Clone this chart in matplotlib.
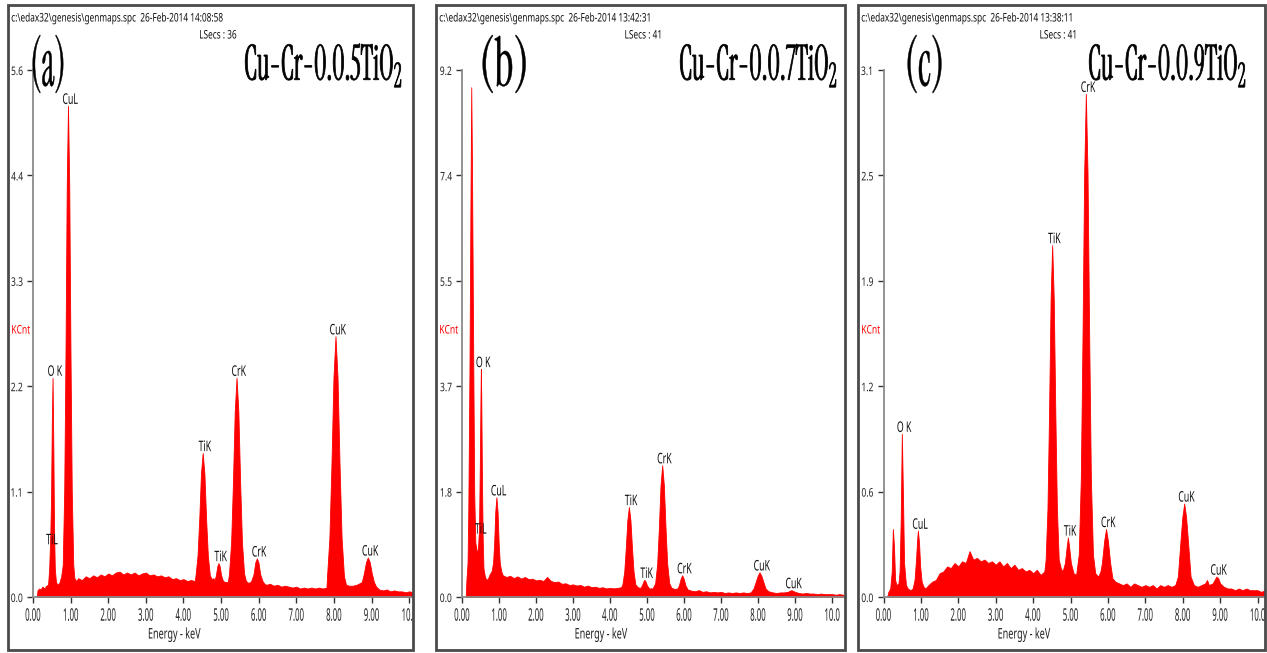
import numpy as np
import matplotlib
matplotlib.use('Agg')
from matplotlib import pyplot as plt
from matplotlib.patches import Rectangle
from matplotlib.patheffects import AbstractPathEffect
from matplotlib.transforms import Affine2D, Bbox, blended_transform_factory
from matplotlib.textpath import TextPath
from matplotlib.font_manager import FontProperties

plt.rcParams['font.family'] = ['Noto Sans', 'DejaVu Sans']
plt.rcParams['mathtext.fontset'] = 'custom'
plt.rcParams['mathtext.default'] = 'regular'

# EDS spectra, (energy keV, KCnt)
spec_a = [
    (0.10, 0.00), (0.12, 0.07), (0.16, 0.09), (0.20, 0.08), (0.25, 0.11), (0.30, 0.09), (0.35, 0.12), (0.40, 0.13),
    (0.43, 0.30), (0.46, 0.66), (0.48, 1.05), (0.50, 1.85), (0.52, 2.33), (0.54, 1.60), (0.56, 0.70), (0.58, 0.30),
    (0.61, 0.16), (0.65, 0.13), (0.70, 0.15), (0.75, 0.22),
    (0.79, 0.34), (0.83, 1.13), (0.864, 2.60), (0.897, 4.38), (0.93, 5.22), (0.963, 4.38), (0.996, 2.60), (1.03, 1.13),
    (1.07, 0.34), (1.10, 0.20),
    (1.15, 0.17), (1.20, 0.20), (1.30, 0.18), (1.40, 0.22), (1.50, 0.20), (1.60, 0.23), (1.70, 0.21), (1.80, 0.24),
    (1.90, 0.22), (2.00, 0.25), (2.10, 0.23), (2.20, 0.26), (2.30, 0.27), (2.40, 0.24), (2.50, 0.26), (2.60, 0.24),
    (2.70, 0.26), (2.80, 0.23), (2.90, 0.25), (3.00, 0.26), (3.10, 0.23), (3.20, 0.24), (3.30, 0.22), (3.40, 0.23),
    (3.50, 0.21), (3.60, 0.22), (3.70, 0.19), (3.80, 0.20), (3.90, 0.18), (4.00, 0.19), (4.10, 0.17), (4.20, 0.18),
    (4.30, 0.17),
    (4.32, 0.23), (4.373, 0.44), (4.419, 0.83), (4.464, 1.31), (4.51, 1.53), (4.556, 1.31), (4.601, 0.83), (4.647, 0.44),
    (4.70, 0.23), (4.75, 0.19), (4.80, 0.20),
    (4.82, 0.17), (4.86, 0.23), (4.90, 0.33), (4.93, 0.36), (4.96, 0.33), (5.00, 0.23), (5.05, 0.17), (5.10, 0.16),
    (5.18, 0.16),
    (5.21, 0.25), (5.266, 0.58), (5.314, 1.21), (5.362, 1.97), (5.41, 2.33), (5.458, 1.97), (5.506, 1.21), (5.554, 0.58),
    (5.61, 0.25), (5.66, 0.17), (5.72, 0.15), (5.78, 0.16),
    (5.80, 0.17), (5.86, 0.24), (5.91, 0.37), (5.95, 0.41), (5.99, 0.37), (6.04, 0.24), (6.10, 0.17), (6.15, 0.14),
    (6.20, 0.13), (6.30, 0.14), (6.40, 0.12), (6.50, 0.13), (6.60, 0.11), (6.70, 0.12), (6.80, 0.11), (6.90, 0.10),
    (7.00, 0.11), (7.10, 0.09), (7.20, 0.10), (7.30, 0.09), (7.40, 0.10), (7.50, 0.09), (7.60, 0.10), (7.70, 0.09),
    (7.80, 0.10),
    (7.815, 0.22), (7.878, 0.63), (7.932, 1.40), (7.986, 2.33), (8.04, 2.77), (8.094, 2.33), (8.148, 1.40), (8.202, 0.63),
    (8.265, 0.22), (8.32, 0.13), (8.40, 0.12), (8.50, 0.12), (8.60, 0.13), (8.70, 0.15),
    (8.74, 0.16), (8.80, 0.26), (8.85, 0.37), (8.90, 0.42), (8.95, 0.37), (9.00, 0.26), (9.06, 0.16), (9.12, 0.11),
    (9.20, 0.08), (9.30, 0.07), (9.40, 0.08), (9.50, 0.06), (9.60, 0.07), (9.70, 0.06), (9.80, 0.06), (9.90, 0.05),
    (10.00, 0.06), (10.10, 0.05), (10.20, 0.05),
]

spec_b = [
    (0.10, 0.00), (0.12, 0.30), (0.15, 0.60), (0.17, 1.50), (0.20, 3.80), (0.23, 7.00), (0.25, 8.90), (0.27, 7.50),
    (0.30, 4.50), (0.33, 1.80), (0.36, 0.95),
    (0.40, 0.80), (0.43, 0.82), (0.46, 1.20), (0.48, 2.20), (0.50, 3.50), (0.51, 3.98), (0.52, 3.50), (0.54, 2.00),
    (0.56, 1.00), (0.58, 0.50), (0.62, 0.35), (0.66, 0.30), (0.70, 0.32), (0.75, 0.40),
    (0.80, 0.45), (0.84, 0.60), (0.87, 0.95), (0.90, 1.50), (0.93, 1.74), (0.96, 1.50), (0.99, 0.95), (1.02, 0.60),
    (1.06, 0.45), (1.10, 0.38),
    (1.20, 0.35), (1.30, 0.37), (1.40, 0.33), (1.50, 0.36), (1.60, 0.32), (1.70, 0.35), (1.80, 0.31), (1.90, 0.32),
    (2.00, 0.29), (2.10, 0.30), (2.20, 0.28), (2.30, 0.35), (2.40, 0.28), (2.50, 0.26), (2.60, 0.27), (2.70, 0.23),
    (2.80, 0.24), (2.90, 0.21), (3.00, 0.22), (3.10, 0.20), (3.20, 0.21), (3.30, 0.18), (3.40, 0.20), (3.50, 0.17),
    (3.60, 0.18), (3.70, 0.16), (3.80, 0.17), (3.90, 0.15), (4.00, 0.16), (4.10, 0.15), (4.20, 0.16), (4.30, 0.17),
    (4.335, 0.22), (4.384, 0.44), (4.426, 0.85), (4.468, 1.34), (4.51, 1.57), (4.552, 1.34), (4.594, 0.85),
    (4.636, 0.44), (4.685, 0.22),
    (4.75, 0.17), (4.82, 0.16), (4.86, 0.20), (4.90, 0.27), (4.93, 0.30), (4.96, 0.27), (5.00, 0.20), (5.06, 0.15),
    (5.15, 0.15),
    (5.22, 0.24), (5.275, 0.58), (5.32, 1.20), (5.365, 1.95), (5.41, 2.30), (5.455, 1.95), (5.50, 1.20), (5.545, 0.58),
    (5.60, 0.24),
    (5.66, 0.16), (5.75, 0.14), (5.82, 0.15), (5.86, 0.20), (5.91, 0.32), (5.95, 0.38), (5.99, 0.32), (6.04, 0.20),
    (6.10, 0.13),
    (6.20, 0.11), (6.30, 0.10), (6.40, 0.12), (6.50, 0.09), (6.60, 0.10), (6.70, 0.08), (6.80, 0.09), (6.90, 0.08),
    (7.00, 0.09), (7.10, 0.07), (7.20, 0.08), (7.30, 0.07), (7.40, 0.08), (7.50, 0.07), (7.60, 0.08), (7.70, 0.07),
    (7.80, 0.08),
    (7.88, 0.15), (7.93, 0.25), (7.99, 0.37), (8.04, 0.43), (8.09, 0.37), (8.15, 0.25), (8.20, 0.15), (8.28, 0.10),
    (8.40, 0.08), (8.50, 0.07), (8.60, 0.08), (8.70, 0.08), (8.80, 0.09), (8.90, 0.12), (9.00, 0.09), (9.10, 0.07),
    (9.20, 0.06), (9.30, 0.07), (9.40, 0.06), (9.50, 0.06), (9.60, 0.05), (9.70, 0.06), (9.80, 0.05), (9.90, 0.05),
    (10.00, 0.05), (10.10, 0.04), (10.20, 0.05), (10.30, 0.04),
]

spec_c = [
    (0.10, 0.00), (0.13, 0.03), (0.18, 0.05), (0.22, 0.15), (0.25, 0.40), (0.28, 0.30), (0.31, 0.10), (0.35, 0.07),
    (0.40, 0.08),
    (0.43, 0.15), (0.46, 0.45), (0.49, 0.96), (0.52, 0.60), (0.55, 0.20), (0.60, 0.07), (0.65, 0.05), (0.72, 0.04),
    (0.78, 0.05),
    (0.83, 0.10), (0.87, 0.22), (0.90, 0.34), (0.92, 0.39), (0.95, 0.32), (0.98, 0.18), (1.02, 0.09), (1.07, 0.06),
    (1.12, 0.05),
    (1.20, 0.07), (1.30, 0.09), (1.40, 0.10), (1.50, 0.14), (1.60, 0.15), (1.70, 0.18), (1.80, 0.17), (1.90, 0.20),
    (2.00, 0.18), (2.10, 0.21), (2.20, 0.20), (2.30, 0.27), (2.40, 0.22), (2.50, 0.23), (2.60, 0.21), (2.70, 0.22),
    (2.80, 0.20), (2.90, 0.21), (3.00, 0.19), (3.10, 0.21), (3.20, 0.18), (3.30, 0.20), (3.40, 0.17), (3.50, 0.19),
    (3.60, 0.16), (3.70, 0.17), (3.80, 0.15), (3.90, 0.16), (4.00, 0.14), (4.10, 0.16), (4.20, 0.13), (4.30, 0.15),
    (4.335, 0.22), (4.384, 0.52), (4.426, 1.08), (4.468, 1.75), (4.51, 2.07), (4.552, 1.75), (4.594, 1.08),
    (4.636, 0.52), (4.685, 0.22),
    (4.75, 0.16), (4.80, 0.16), (4.85, 0.20), (4.90, 0.30), (4.93, 0.35), (4.96, 0.30), (5.01, 0.20), (5.08, 0.14),
    (5.15, 0.13),
    (5.22, 0.25), (5.275, 0.69), (5.32, 1.51), (5.365, 2.49), (5.41, 2.96), (5.455, 2.49), (5.50, 1.51), (5.545, 0.69),
    (5.60, 0.25),
    (5.66, 0.14), (5.74, 0.12), (5.80, 0.15), (5.84, 0.20), (5.90, 0.33), (5.95, 0.40), (6.00, 0.33), (6.06, 0.20),
    (6.12, 0.11), (6.20, 0.09),
    (6.30, 0.08), (6.40, 0.07), (6.50, 0.08), (6.60, 0.06), (6.70, 0.08), (6.80, 0.07), (6.90, 0.06), (7.00, 0.07),
    (7.10, 0.06), (7.20, 0.07), (7.30, 0.05), (7.40, 0.07), (7.50, 0.06), (7.60, 0.07), (7.70, 0.06), (7.80, 0.07),
    (7.87, 0.12), (7.93, 0.30), (7.99, 0.47), (8.04, 0.55), (8.09, 0.47), (8.15, 0.30), (8.21, 0.12),
    (8.30, 0.07), (8.40, 0.06), (8.50, 0.07), (8.60, 0.08), (8.65, 0.10), (8.70, 0.07), (8.80, 0.08), (8.85, 0.10),
    (8.90, 0.12), (8.95, 0.11), (9.00, 0.08), (9.10, 0.06), (9.20, 0.05), (9.30, 0.05), (9.40, 0.04), (9.50, 0.05),
    (9.60, 0.04), (9.70, 0.05), (9.80, 0.04), (9.90, 0.04), (10.00, 0.04), (10.10, 0.03), (10.20, 0.04),
]

# peak identifications
lines_a = ['O K', 'TiL', 'CuL', 'TiK', 'TiK', 'CrK', 'CrK', 'CuK', 'CuK']
line_kev_a = [0.52, 0.45, 0.93, 4.51, 4.93, 5.41, 5.95, 8.04, 8.90]
lines_b = ['O K', 'TiL', 'CuL', 'TiK', 'TiK', 'CrK', 'CrK', 'CuK', 'CuK']
line_kev_b = [0.51, 0.45, 0.93, 4.51, 4.93, 5.41, 5.95, 8.04, 8.90]
lines_c = ['O K', 'CuL', 'TiK', 'TiK', 'CrK', 'CrK', 'CuK', 'CuK']
line_kev_c = [0.49, 0.92, 4.51, 4.93, 5.41, 5.95, 8.04, 8.90]

ymax_a, ymax_b, ymax_c = 5.6, 9.2, 3.1
ytick_labels_a = ['0.0', '1.1', '2.2', '3.3', '4.4', '5.6']
ytick_labels_b = ['0.0', '1.8', '3.7', '5.5', '7.4', '9.2']
ytick_labels_c = ['0.0', '0.6', '1.2', '1.9', '2.5', '3.1']
xtick_labels = ['0.00', '1.00', '2.00', '3.00', '4.00', '5.00', '6.00', '7.00', '8.00', '9.00', '10.0']

tags = ['(a)', '(b)', '(c)']
samples = ['Cu-Cr-0.0.5TiO$_2$', 'Cu-Cr-0.0.7TiO$_2$', 'Cu-Cr-0.0.9TiO$_2$']
spc_file = 'c:\\edax32\\genesis\\genmaps.spc'
stamps = ['26-Feb-2014 14:08:58', '26-Feb-2014 13:42:31', '26-Feb-2014 13:38:11']
lsecs = [36, 41, 41]

W, H = 1267, 653
fig = plt.figure(figsize=(W / 100, H / 100), dpi=100)
renderer = fig.canvas.get_renderer()
SERIF = 'Instrument Serif'


def fx(px):
    return px / W


def fy(py):
    return 1 - py / H


class Squeeze(AbstractPathEffect):
    """Narrow the glyphs horizontally around the aligned point, optionally thickened."""

    def __init__(self, sx, anchor=0.0, stroke=0.0):
        super().__init__()
        self.sx = sx
        self.anchor = anchor
        self.stroke = stroke

    def draw_path(self, renderer, gc, tpath, affine, rgbFace=None):
        ext = tpath.get_extents()
        px = ext.x0 + self.anchor * ext.width
        narrow = Affine2D().translate(-px, 0).scale(self.sx, 1).translate(px, 0)
        gc0 = renderer.new_gc()
        gc0.copy_properties(gc)
        if self.stroke:
            gc0.set_linewidth(self.stroke)
            gc0.set_foreground(rgbFace)
            gc0.set_joinstyle('round')
        renderer.draw_path(gc0, tpath, narrow + affine, rgbFace)
        gc0.restore()


def squeeze(t, sx, anchor=0.0, stroke=0.0):
    t.set_path_effects([Squeeze(sx, anchor, stroke)])
    natural = t.get_window_extent

    # report the narrowed box, not the full-width one
    def narrow_extent(renderer=None, *args, **kwargs):
        bb = natural(renderer)
        px = bb.x0 + anchor * bb.width
        return Bbox.from_extents(px + (bb.x0 - px) * sx, bb.y0, px + (bb.x1 - px) * sx, bb.y1)

    t.get_window_extent = narrow_extent
    return sx


def fit_width(t, width, anchor=0.0, stroke=0.0):
    return squeeze(t, min(1.0, width / t.get_window_extent(renderer).width), anchor, stroke)


def glyph_span(s, family):
    """Vertical extent (bottom, top) of a glyph at 1 pt, in points."""
    ext = TextPath((0, 0), s, size=1, prop=FontProperties(family=family)).get_extents()
    return ext.y0, ext.y1


# serif sizes from glyph heights: parentheses ~58 px tall, capitals ~35 px
paren_lo, paren_hi = glyph_span('(', SERIF)
tag_pt = 58 * 0.72 / (paren_hi - paren_lo)
tag_drop = -paren_lo * tag_pt / 0.72
cap_lo, cap_hi = glyph_span('H', SERIF)
title_pt = 35 * 0.72 / (cap_hi - cap_lo)

# panel geometry in pixels
frames = [(8, 413), (436, 845), (858, 1265)]
frame_top, frame_bottom = 5, 650
axis_x0 = [33, 462, 883.5]
axis_top, axis_bottom = 70, 597
xmax = [10.1, 10.35, 10.2]
tag_x = [28, 478, 903]
tag_w = [35, 49, 39]
title_right = [403, 838, 1247]
lsecs_x = [237, 663, 1078]

panels = [
    (spec_a, ymax_a, ytick_labels_a, lines_a, line_kev_a),
    (spec_b, ymax_b, ytick_labels_b, lines_b, line_kev_b),
    (spec_c, ymax_c, ytick_labels_c, lines_c, line_kev_c),
]

for i, (spec, ymax, ylabels, names, kevs) in enumerate(panels):
    x0, x1 = frames[i]
    frame = Rectangle((fx(x0), fy(frame_bottom)), fx(x1 - x0), (frame_bottom - frame_top) / H,
                      transform=fig.transFigure, fill=False, edgecolor='#4a4a4a', lw=2, zorder=5)
    fig.add_artist(frame)

    ax = fig.add_axes([fx(axis_x0[i]), fy(axis_bottom), fx(x1 - axis_x0[i]), (axis_bottom - axis_top) / H])
    ax.patch.set_alpha(0)
    energy, kcnt = np.array(spec).T
    ax.fill_between(energy, kcnt, 0, color='#ff0000', lw=0.6)

    ax.set_xlim(0, xmax[i])
    ax.set_ylim(0, ymax)
    for s in ['top', 'right']:
        ax.spines[s].set_visible(False)
    for s in ['left', 'bottom']:
        ax.spines[s].set_color('#8a8a8a')
        ax.spines[s].set_linewidth(1.3)
        ax.spines[s].set_zorder(3)

    ax.set_xticks(np.arange(0, 11))
    ax.set_xticklabels(xtick_labels)
    ax.set_yticks(np.linspace(0, ymax, 6))
    ax.set_yticklabels(ylabels)
    ax.tick_params(direction='out', length=4, width=1, color='#333333', labelcolor='#222222')
    ax.tick_params(axis='x', labelsize=12.5, pad=3)
    ax.tick_params(axis='y', labelsize=8.5, pad=3)
    for lbl in ax.get_xticklabels():
        lbl.set_fontweight('semibold')
        squeeze(lbl, 0.45, 0.5)
        lbl.set_clip_path(frame)
    for lbl in ax.get_yticklabels():
        lbl.set_fontweight('medium')
        squeeze(lbl, 0.72, 1.0)

    for name, kev in zip(names, kevs):
        top = np.interp(kev, energy, kcnt)
        t = ax.annotate(name, (kev, top), xytext=(1.5, -1.5), textcoords='offset points',
                        ha='center', va='bottom', fontsize=10.5, fontweight='medium', color='#111111',
                        annotation_clip=False)
        squeeze(t, 0.6, 0.5)

    t = ax.text(3.75, fy(635), 'Energy - keV', transform=blended_transform_factory(ax.transData, fig.transFigure),
                ha='center', va='center', fontsize=10.5, color='#222222')
    squeeze(t, 0.62, 0.5)

    t = fig.text(fx(x0 + 3), fy(330), 'KCnt', color='#ff0000', fontsize=8.5, ha='left', va='center')
    fit_width(t, 19)

    t = fig.text(fx(x0 + 3), fy(18), spc_file + '  ' + stamps[i], fontsize=8.5, color='#111111',
                 ha='left', va='center')
    sx = fit_width(t, 213)
    t = fig.text(fx(lsecs_x[i]), fy(35), 'LSecs : %d' % lsecs[i], fontsize=8.5, color='#111111',
                 ha='right', va='center')
    squeeze(t, sx, 1.0)

    t = fig.text(fx(tag_x[i]), fy(93 - tag_drop), tags[i], fontsize=tag_pt, family=SERIF,
                 ha='left', va='baseline')
    fit_width(t, tag_w[i], 0.0, 0.3)

    t = fig.text(fx(title_right[i]), fy(80), samples[i], fontsize=title_pt, family=SERIF,
                 ha='right', va='baseline')
    fit_width(t, 158, 1.0, 0.55)

fig.savefig('out.png', dpi=100)
